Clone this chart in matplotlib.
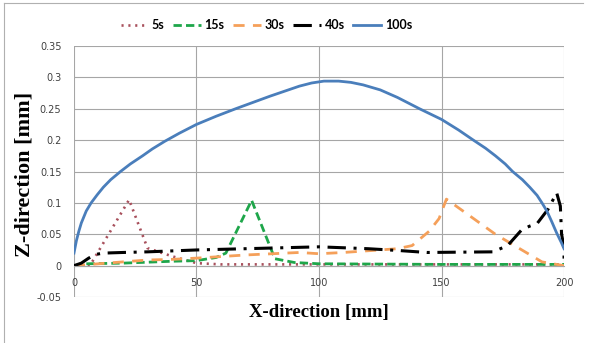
import matplotlib.pyplot as plt
from matplotlib.lines import Line2D

# values
x_5s = [0, 6.5, 22.5, 30, 40, 50, 60, 100, 150, 200]
z_5s = [0, 0.0, 0.105, 0.028, 0.015, 0.004, 0.002, 0.002, 0.002, 0.002]

x_15s = [0, 5, 20, 40, 50, 58, 62, 72.5, 82, 90, 100, 150, 200]
z_15s = [0, 0.003, 0.004, 0.007, 0.008, 0.013, 0.02, 0.104, 0.011, 0.005, 0.003, 0.002, 0.002]

x_30s = [0, 10, 20, 30, 40, 50, 70, 92, 100, 110, 132, 138, 145, 149, 152, 172, 191, 200]
z_30s = [0, 0.003, 0.006, 0.009, 0.01, 0.012, 0.017, 0.021, 0.019, 0.021, 0.027, 0.032, 0.055, 0.075, 0.106, 0.05, 0.006, 0.0]

x_40s = [0, 3, 6, 9, 12, 20, 30, 50, 70, 90, 100, 120, 133, 144, 171, 177, 182.7, 186, 189, 193.5, 197, 198.5, 199, 200, 200]
z_40s = [0, 0.004, 0.012, 0.018, 0.02, 0.021, 0.022, 0.025, 0.027, 0.029, 0.03, 0.027, 0.024, 0.021, 0.022, 0.032, 0.057, 0.063, 0.067, 0.09, 0.116, 0.095, 0.05, 0.03, 0.0]

x_100s = [0, 1, 2, 3, 5, 7, 9.5, 12, 15, 19, 23, 28, 32, 37, 43, 50, 58, 66, 73, 80, 86, 92, 97,
          102, 108, 113, 118, 125, 132, 141, 150, 157, 163, 168, 172, 176, 179, 183, 186, 189,
          191, 193, 195, 197, 199, 200]
z_100s = [0.02, 0.04, 0.055, 0.068, 0.087, 0.1, 0.113, 0.125, 0.137, 0.15, 0.162, 0.175, 0.186,
          0.198, 0.211, 0.225, 0.238, 0.25, 0.26, 0.27, 0.278, 0.286, 0.291, 0.294, 0.294, 0.292,
          0.288, 0.28, 0.268, 0.25, 0.233, 0.216, 0.2, 0.187, 0.175, 0.162, 0.15, 0.137, 0.125,
          0.112, 0.1, 0.087, 0.07, 0.052, 0.036, 0.027]

series = ["5s", "15s", "30s", "40s", "100s"]

fig = plt.figure(figsize=(5.89, 3.43), dpi=100)
ax = fig.add_axes([0.1256, 0.134, 0.832, 0.732])

ax.plot(x_5s, z_5s, color='#a8505c', linestyle=(0, (0.8, 1.8)), linewidth=1.9, label=series[0])
ax.plot(x_15s, z_15s, color='#1ea64a', linestyle=(0, (3, 1.5)), linewidth=2.0, label=series[1])
ax.plot(x_30s, z_30s, color='#f5a05a', linestyle=(0, (4, 3)), linewidth=2.0, label=series[2])
ax.plot(x_40s, z_40s, color='black', linestyle=(0, (6, 2.5, 1, 2.5)), linewidth=2.2, label=series[3])
ax.plot(x_100s, z_100s, color='#4a7ebb', linewidth=2.0, label=series[4])

ax.set_xlim(0, 200)
ax.set_ylim(-0.05, 0.35)
ax.set_xticks([0, 50, 100, 150, 200])
ax.set_yticks([-0.05, 0, 0.05, 0.1, 0.15, 0.2, 0.25, 0.3, 0.35])
ax.set_yticklabels(["-0.05", "0", "0.05", "0.1", "0.15", "0.2", "0.25", "0.3", "0.35"])
ax.grid(True, color='#a6a6a6', linewidth=0.8)
ax.set_axisbelow(True)
for side in ['top', 'right', 'left']:
    ax.spines[side].set_visible(False)
ax.spines['bottom'].set_position(('data', 0))
ax.spines['bottom'].set_color('#a6a6a6')
ax.tick_params(length=0, labelsize=7, colors='#404040')
ax.tick_params(axis='x', pad=9)
ax.tick_params(axis='y', pad=9)

ax.text(0.5, -0.062, "X-direction [mm]", transform=ax.transAxes, ha='center', va='center',
        family='Liberation Serif', weight='bold', fontsize=13.5)
fig.text(0.042, 0.49, "Z-direction [mm]", rotation=90, ha='center', va='center',
         family='Liberation Serif', weight='bold', fontsize=16)

fig.legend(loc='center', bbox_to_anchor=(0.452, 0.927), ncol=5, frameon=False,
           handlelength=2.2, handletextpad=0.3, columnspacing=0.7,
           prop={'family': 'Lato', 'weight': 'bold', 'size': 9})

# light frame round the chart
fig.add_artist(Line2D([0.007, 0.007], [0.0, 0.99], color='#b0b0b0', linewidth=0.8))
fig.add_artist(Line2D([0.007, 0.99], [0.99, 0.99], color='#b0b0b0', linewidth=0.8))

fig.savefig("out.png", dpi=100)
